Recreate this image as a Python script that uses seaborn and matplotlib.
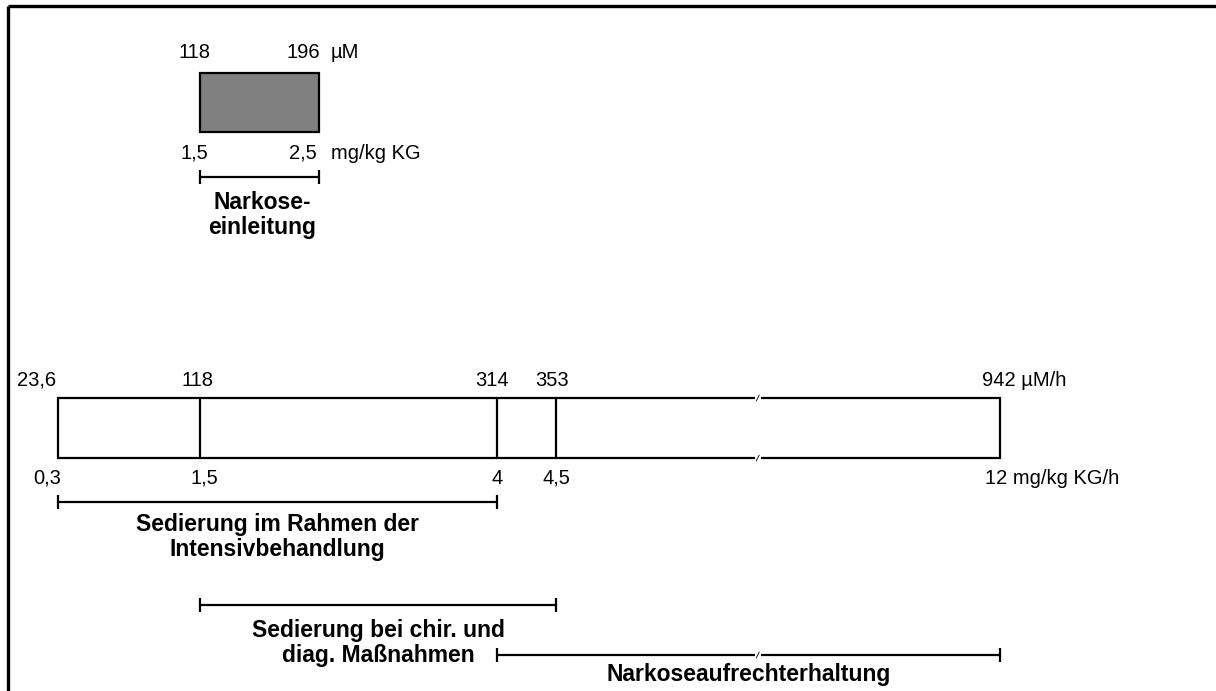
import matplotlib.pyplot as plt
from matplotlib.patches import Rectangle
import seaborn as sns

# --- data ---------------------------------------------------------------
# induction bolus: dose in mg/kg KG and plasma concentration in µM
induction_mg = [1.5, 2.5]
induction_mg_labels = ["1,5", "2,5"]
induction_um_labels = ["118", "196"]
induction_label = "Narkose-\neinleitung"

# continuous infusion: rate in mg/kg KG/h and µM/h
rate_mg = [0.3, 1.5, 4, 4.5, 12]
rate_mg_labels = ["0,3", "1,5", "4", "4,5", "12"]
rate_um_labels = ["23,6", "118", "314", "353", "942"]

# indications (start, end in mg/kg KG/h)
range_start = [0.3, 1.5, 4]
range_end = [4, 4.5, 12]
range_labels = ["Sedierung im Rahmen der\nIntensivbehandlung",
                "Sedierung bei chir. und\ndiag. Maßnahmen",
                "Narkoseaufrechterhaltung"]

# --- scale with axis break ------------------------------------------------
PX = 118.6          # pixels per mg/kg unit
BREAK = 6.2         # axis is compressed beyond this value
SQUEEZE = 0.352


def pos(v):
    return v if v <= BREAK else BREAK + (v - BREAK) * SQUEEZE


def shift(v, dx):
    return pos(v) + dx / PX


sns.set_theme(style="white")
plt.rcParams['font.family'] = ['Liberation Sans', 'DejaVu Sans']
plt.rcParams['text.color'] = 'black'

fig = plt.figure(figsize=(12.16, 6.91), dpi=100)
ax = fig.add_axes([0, 0, 1, 1])
x0 = 0.3 - 58 / PX
ax.set_xlim(x0, x0 + 1216 / PX)
ax.set_ylim(691, 0)
ax.axis('off')

FS = 14.5
FSB = 16.5
LW = 1.6

# frame
ax.plot([x0 + 8 / PX, x0 + 1216 / PX], [6, 6], color='black', lw=2.4, solid_capstyle='butt')
ax.plot([x0 + 8 / PX, x0 + 8 / PX], [6, 691], color='black', lw=2.4, solid_capstyle='butt')


def brk(y):
    # little gap with slanted tick where the scale is interrupted
    ax.plot([BREAK - 3 / PX, BREAK + 3 / PX], [y, y], color='white', lw=3, solid_capstyle='butt')
    ax.plot([BREAK - 1.5 / PX, BREAK + 1.5 / PX], [y + 3, y - 3], color='black', lw=0.6)


# --- induction box --------------------------------------------------------
a, b = pos(induction_mg[0]), pos(induction_mg[1])
ax.add_patch(Rectangle((a, 73), b - a, 59, facecolor='#808080', edgecolor='black', lw=LW))
ax.text(shift(induction_mg[0], -6), 52, induction_um_labels[0], ha='center', va='center', fontsize=FS)
ax.text(shift(induction_mg[1], -16), 52, induction_um_labels[1], ha='center', va='center', fontsize=FS)
ax.text(shift(induction_mg[1], 12), 52, "µM", ha='left', va='center', fontsize=FS)
ax.text(shift(induction_mg[0], -6), 153, induction_mg_labels[0], ha='center', va='center', fontsize=FS)
ax.text(shift(induction_mg[1], -16), 153, induction_mg_labels[1], ha='center', va='center', fontsize=FS)
ax.text(shift(induction_mg[1], 12), 153, "mg/kg KG", ha='left', va='center', fontsize=FS)

ax.plot([a, b], [177, 177], color='black', lw=LW)
ax.vlines([a, b], 170, 184, color='black', lw=LW)
ax.text((a + b) / 2 + 3 / PX, 215, induction_label, ha='center', va='center', fontsize=FSB,
        fontweight='bold', linespacing=1.15)

# --- infusion bar -----------------------------------------------------------
left, right = pos(rate_mg[0]), pos(rate_mg[-1])
ax.add_patch(Rectangle((left, 398), right - left, 60, facecolor='white', edgecolor='black', lw=LW))
ax.vlines([pos(v) for v in rate_mg[1:-1]], 398, 458, color='black', lw=LW)
brk(398)
brk(458)

um_dx = [-21, -3, -5, -4]
mg_dx = [-11, 4, 0, 0]
for v, lab, dx in zip(rate_mg[:-1], rate_um_labels[:-1], um_dx):
    ax.text(shift(v, dx), 380, lab, ha='center', va='center', fontsize=FS)
for v, lab, dx in zip(rate_mg[:-1], rate_mg_labels[:-1], mg_dx):
    ax.text(shift(v, dx), 478, lab, ha='center', va='center', fontsize=FS)
ax.text(shift(rate_mg[-1], -18), 380, rate_um_labels[-1] + " µM/h", ha='left', va='center', fontsize=FS)
ax.text(shift(rate_mg[-1], -15), 478, rate_mg_labels[-1] + " mg/kg KG/h", ha='left', va='center', fontsize=FS)

# --- indication brackets ---------------------------------------------------
bracket_y = [502, 605, 655]
text_y = [537, 643, 674]
for s, e, lab, by, ty in zip(range_start, range_end, range_labels, bracket_y, text_y):
    ps, pe = pos(s), pos(e)
    ax.plot([ps, pe], [by, by], color='black', lw=LW)
    ax.vlines([ps, pe], by - 7, by + 7, color='black', lw=LW)
    if s < BREAK < e:
        brk(by)
    ax.text((ps + pe) / 2, ty, lab, ha='center', va='center', fontsize=FSB,
            fontweight='bold', linespacing=1.15)

fig.savefig('out.png', dpi=100)
